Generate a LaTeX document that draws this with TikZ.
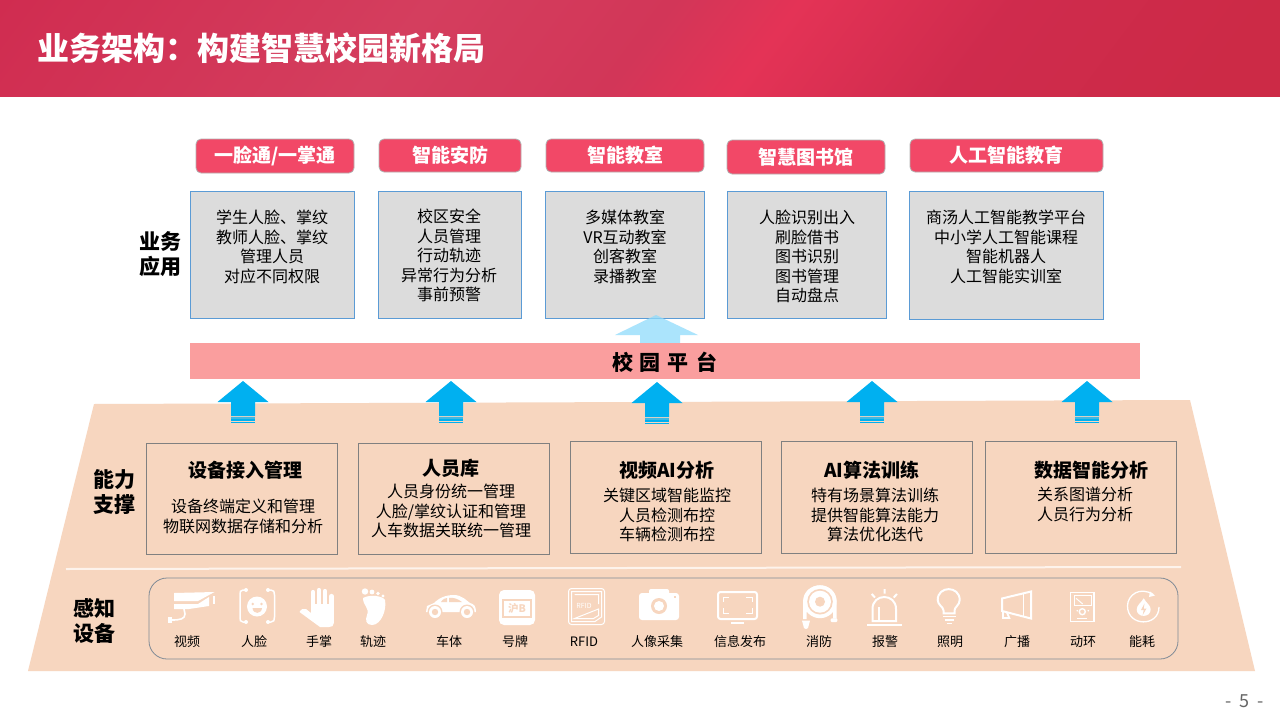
\documentclass[tikz,border=0pt]{standalone}
\usepackage{fontspec}
\setmainfont{Noto Sans CJK SC}
\usetikzlibrary{calc}
\definecolor{peach}{HTML}{F7D6BF}
\definecolor{pill}{HTML}{F24867}
\definecolor{graybox}{HTML}{DCDCDC}
\definecolor{bluestroke}{HTML}{5B9BD5}
\definecolor{barcol}{HTML}{FA9E9E}
\definecolor{arrowblue}{HTML}{00B0F0}
\definecolor{lightarrow}{HTML}{8FDBFB}
\definecolor{framecol}{HTML}{7F8A96}
\definecolor{hA}{HTML}{D02C50}
\definecolor{hB}{HTML}{D43E5E}
\definecolor{hC}{HTML}{D23658}
\definecolor{hD}{HTML}{E43356}
\definecolor{hE}{HTML}{CF2B4D}
\definecolor{hF}{HTML}{CC2A46}
\pgfdeclarehorizontalshading{hdrshade}{100bp}{color(0bp)=(hA); color(32bp)=(hA); color(43.5bp)=(hB); color(50bp)=(hC); color(53.3bp)=(hD); color(59.1bp)=(hE); color(66bp)=(hF); color(100bp)=(hF)}
\newcommand{\lowtxt}[1]{\raisebox{-1pt}{#1}}
\tikzset{
 pillbox/.style={draw=black!30,line width=.8pt,fill=pill,rounded corners=5pt,text=white,font=\bfseries\fontsize{19}{21}\selectfont,inner sep=0pt},
 grayrect/.style={draw=bluestroke,line width=1pt,fill=graybox,inner sep=0pt},
 capbox/.style={draw=black!50,line width=1pt,fill=none,inner sep=0pt},
 body/.style={text=black,font=\fontsize{16}{19.5}\selectfont,align=center,inner sep=0pt,anchor=north},
 captitle/.style={text=black,font=\bfseries\fontsize{19}{21}\selectfont,inner sep=0pt},
 sidelabel/.style={text=black,font=\bfseries\fontsize{21}{25}\selectfont,align=center,inner sep=0pt},
 iconlabel/.style={text=black,font=\fontsize{13}{15}\selectfont,inner sep=0pt}
}
\newcommand{\upblock}[2]{% x of centre, y of tip
 \fill[arrowblue] (#1,#2) -- ++(25.5,21) -- ++(-13.5,0) -- ++(0,14) -- ++(-24,0) -- ++(0,-14) -- ++(-13.5,0) -- cycle;
 \fill[arrowblue!75!peach] ($(#1,#2)+(-12,36)$) rectangle ++(24,2);
 \fill[arrowblue] ($(#1,#2)+(-12,38)$) rectangle ++(24,2);
 \fill[arrowblue] ($(#1,#2)+(-12,41)$) rectangle ++(24,1);
}
\begin{document}
\begin{tikzpicture}[x=1pt,y=-1pt]
\useasboundingbox (0,0) rectangle (1280,720);
\fill[white] (0,0) rectangle (1280,720);
% header
\begin{scope}
\clip (0,0) rectangle (1280,96.6);
\shade[shading=hdrshade,shading angle=-37] (-110,-701.5) rectangle (1390,798.5);
\end{scope}
\node[text=white,font=\bfseries\fontsize{32}{36}\selectfont,anchor=west,inner sep=0pt] (title) at (37,48) {业务架构：构建智慧校园新格局};
% pills
\node[pillbox,minimum width=158pt,minimum height=34pt] (p1) at (275,156) {\lowtxt{一脸通/一掌通}};
\node[pillbox,minimum width=142pt,minimum height=33pt] (p2) at (450,155.5) {\lowtxt{智能安防}};
\node[pillbox,minimum width=158pt,minimum height=33pt] (p3) at (625,155.5) {\lowtxt{智能教室}};
\node[pillbox,minimum width=158pt,minimum height=34pt] (p4) at (806,157) {\lowtxt{智慧图书馆}};
\node[pillbox,minimum width=193pt,minimum height=33pt] (p5) at (1006.5,155.5) {\lowtxt{人工智能教育}};
% gray boxes
\node[grayrect,minimum width=164pt,minimum height=127pt] (g1) at (272.5,254.5) {};
\node[grayrect,minimum width=143pt,minimum height=127pt] (g2) at (450,254.5) {};
\node[grayrect,minimum width=159pt,minimum height=127pt] (g3) at (625,254.5) {};
\node[grayrect,minimum width=159pt,minimum height=127pt] (g4) at (807,254.5) {};
\node[grayrect,minimum width=194pt,minimum height=128pt] (g5) at (1006.5,255) {};
\node[body] (t1) at (272,210) {学生人脸、掌纹\\教师人脸、掌纹\\管理人员\\对应不同权限};
\node[body] (t2) at (449,209) {校区安全\\人员管理\\行动轨迹\\异常行为分析\\事前预警};
\node[body] (t3) at (625,210) {多媒体教室\\VR互动教室\\创客教室\\录播教室};
\node[body] (t4) at (807,210) {人脸识别出入\\刷脸借书\\图书识别\\图书管理\\自动盘点};
\node[body] (t5) at (1006,210) {商汤人工智能教学平台\\中小学人工智能课程\\智能机器人\\人工智能实训室};
\node[sidelabel] (l1) at (160,254) {业务\\应用};
% light arrow
\fill[lightarrow,opacity=.75] (656,315) -- (698,335) -- (680,335) -- (680,343) -- (640,343) -- (640,335) -- (615,335) -- cycle;
% bar
\node[fill=barcol,minimum width=950pt,minimum height=36pt,inner sep=0pt] (bar) at (665,361) {};
\node[text=black,font=\bfseries\fontsize{21}{23}\selectfont,inner sep=0pt] (bart) at (664.5,362) {校\hspace{7pt}园\hspace{7pt}平\hspace{7pt}台};
% base
\fill[peach] (94,404) -- (1190,400) -- (1255,671) -- (28,671) -- cycle;
\upblock{243}{381}
\upblock{451}{381}
\upblock{657}{382}
\upblock{872}{381}
\upblock{1087}{381}
% capability
\node[capbox,minimum width=191pt,minimum height=111pt] (c1) at (241.5,498.5) {};
\node[capbox,minimum width=191pt,minimum height=111pt] (c2) at (454,498.5) {};
\node[capbox,minimum width=191pt,minimum height=112pt] (c3) at (665.5,497) {};
\node[capbox,minimum width=191pt,minimum height=112pt] (c4) at (877,497) {};
\node[capbox,minimum width=191pt,minimum height=112pt] (c5) at (1080.5,497) {};
\node[captitle] (ct1) at (245,470) {设备接入管理};
\node[captitle] (ct2) at (451,468) {人员库};
\node[captitle] (ct3) at (667,470) {视频AI分析};
\node[captitle] (ct4) at (872,470) {AI算法训练};
\node[captitle] (ct5) at (1091,470) {数据智能分析};
\node[body] (cb1) at (243,499) {设备终端定义和管理\\物联网数据存储和分析};
\node[body] (cb2) at (451,484) {人员身份统一管理\\人脸/掌纹认证和管理\\人车数据关联统一管理};
\node[body] (cb3) at (667,488) {关键区域智能监控\\人员检测布控\\车辆检测布控};
\node[body] (cb4) at (875,488) {特有场景算法训练\\提供智能算法能力\\算法优化迭代};
\node[body] (cb5) at (1085,487) {关系图谱分析\\人员行为分析};
\node[sidelabel] (l2) at (114,492) {能力\\支撑};
\node[sidelabel] (l3) at (94,621) {感知\\设备};
% separator
\draw[color=white!70!peach,line width=2pt] (66,569) -- (1181,567);
% frame
\draw[framecol,line width=.8pt,rounded corners=18pt] (149,578) rectangle (1178,659);
% labels
\foreach \nm/\x/\t in {a/187/视频,b/254/人脸,c/319/手掌,d/373/轨迹,e/449/车体,f/515/号牌,g/584/RFID,h/657/人像采集,i/740/信息发布,j/819/消防,k/885/报警,l/950/照明,m/1017/广播,n/1083/动环,o/1142/能耗}
  \node[iconlabel] (il\nm) at (\x,641.5) {\t};
% ---- icons ----
% video
\fill[white] (174,593) -- (214.5,592) -- (198,601) -- (174,601) -- cycle;
\fill[white] (174,604) -- (198,604) -- (209,597) -- (209,606) -- (189,609) -- (174,609) -- cycle;
\fill[white] (213,596) rectangle (215,604);
\draw[white,line width=1.6pt] (184,609) -- (185,614) .. controls (185,619) and (180,620) .. (172,620);
\fill[white] (168,617) rectangle (172,623);
% face
\fill[white] (257,606.5) circle[radius=10pt];
\fill[peach] (252.7,604) circle[radius=1.4pt] (261.5,604) circle[radius=1.4pt];
\fill[peach] (252.5,608) .. controls (253,614.5) and (261.5,614.5) .. (262,608) -- cycle;
\draw[white,line width=1.5pt,line cap=round] (246,590) -- (243,590) .. controls (240,590) and (240,592) .. (240,595) -- (240,617) .. controls (240,620) and (240,622) .. (243,622) -- (246,622);
\draw[white,line width=1.5pt,line cap=round] (268,590) -- (271,590) .. controls (274,590) and (274.5,592) .. (274.5,595) -- (274.5,617) .. controls (274.5,620) and (274,622) .. (271,622) -- (268,622);
\fill[white] (246,590) circle[radius=2pt] (246,622) circle[radius=2pt] (268,590) circle[radius=2pt] (268,622) circle[radius=2pt];
% hand
\draw[white,line width=4.2pt,line cap=round] (313,608) -- (313,592) (319,608) -- (319,590) (325,608) -- (325,591) (331.5,610) -- (331.5,596);
\fill[white] (311,604) -- (333.8,604) -- (333.8,623) .. controls (333.8,626) and (332,627) .. (329,627) -- (320,627) -- (299.5,612) .. controls (301,609) and (304,608) .. (306,609) -- (311,613) -- cycle;
% foot
\fill[white] (365,591.5) circle[radius=3.2pt] (372,592) circle[radius=2.4pt] (378,593.5) circle[radius=1.9pt] (383,596) circle[radius=1.6pt];
\fill[white] (363,598) .. controls (370,594) and (383,596) .. (385,600) .. controls (387,610) and (381,625) .. (372,625) .. controls (366,625) and (365,620) .. (367,615) .. controls (370,608) and (363,606) .. (363,598) -- cycle;
% car
\fill[white] (426,612) -- (427,606) -- (434,603) .. controls (441,596) and (449,595) .. (454,595) .. controls (462,595) and (467,601) .. (470,603) .. controls (474,604) and (476,606) .. (476,612) -- (426,612) -- cycle;
\fill[peach] (441,602) .. controls (443,599) and (445,598) .. (447,598) -- (447,602) -- cycle;
\fill[peach] (449,598) .. controls (453,597) and (458,599) .. (462,602) -- (449,602) -- cycle;
\foreach \cx in {435,467} {\fill[peach] (\cx,612) circle[radius=7.5pt]; \fill[white] (\cx,612) circle[radius=6pt]; \fill[peach] (\cx,612) circle[radius=3.2pt];}
% plate
\fill[white,rounded corners=5pt] (499,590) rectangle (535,625);
\draw[peach,line width=1.2pt] (503,600) rectangle (531,617);
\node[text=peach,font=\bfseries\fontsize{10.5}{12}\selectfont,inner sep=0pt] (pltxt) at (517,608.5) {沪B};
% rfid
\draw[white,line width=1pt,rounded corners=3pt] (568.5,588.5) rectangle (604.5,624.5);
\draw[white,line width=1pt] (571.5,591.5) -- (601.5,591.5) -- (601.5,617) -- (595,621.5) -- (571.5,621.5) -- cycle;
\draw[white,line width=1pt] (574.5,594.5) -- (598.5,594.5) -- (598.5,604) (598.5,609) -- (598.5,615.5) -- (593.5,618.5) -- (574.5,618.5) -- cycle;
\node[text=white,font=\fontsize{7}{8}\selectfont,inner sep=0pt] (rftxt) at (584,606) {RFID};
% camera
\fill[white,rounded corners=3pt] (639,593) rectangle (679,620);
\fill[white,rounded corners=2pt] (649,589) rectangle (669,597);
\fill[peach] (659,606) circle[radius=8pt];
\fill[white] (659,606) circle[radius=5pt];
\fill[peach] (674,596) rectangle (676,598);
% monitor
\draw[white,line width=2pt,rounded corners=2.5pt] (718,592) rectangle (757,619);
\draw[white,line width=2pt] (731,623) -- (744,623);
\draw[white,line width=1pt] (729,597) -- (723,597) -- (723,602) (746,597) -- (752,597) -- (752,602) (723,608) -- (723,613) -- (729,613) (752,608) -- (752,613) -- (746,613);
% hose
\fill[white] (803,619) -- (803,602) .. controls (803,580) and (836.7,580) .. (836.7,602) -- (836.7,618.5) -- (833,618.5) -- (833,612) -- (806.7,612) -- (806.7,619) -- cycle;
\fill[white] (820,601.7) circle[radius=16.5pt];
\fill[peach] (820,601.7) circle[radius=12.8pt];
\fill[white] (820,601.7) circle[radius=11pt];
\fill[peach] (820,601.7) circle[radius=5pt];
\fill[white] (802,620.7) -- (810,620.7) -- (808,628) -- (806,629) -- (804,628) -- cycle;
\fill[white,rounded corners=1pt] (830.7,618.3) rectangle (837.3,622);
% alarm
\draw[white,line width=2pt] (872.5,621) -- (872.5,609) .. controls (872.5,593) and (896,593) .. (896,609) -- (896,621) -- cycle;
\draw[white,line width=2pt] (867,624.5) -- (901.5,624.5);
\draw[white,line width=1.5pt] (879,621) -- (879,607);
\draw[white,line width=2pt] (884.7,589) -- (884.7,593.5) (871.7,594) -- (875,597.5) (897,594) -- (893.7,597.5);
% bulb
\draw[white,line width=2pt] (943.5,613.3) -- (943.5,610.5) .. controls (943.5,607) and (937.7,605) .. (937.7,600) .. controls (937.7,585.5) and (959.7,585.5) .. (959.7,600) .. controls (959.7,605) and (954.5,607) .. (954.5,610.5) -- (954.5,613.3) -- cycle;
\draw[white,line width=1.4pt] (943,616.5) -- (955.5,616.5) (944.7,620) -- (954,620) (946.7,623.5) -- (951.7,623.5);
% horn
\draw[white,line width=2pt] (1002,598.5) -- (1031,591.5) -- (1031,618.5) -- (1002,611) -- cycle;
\draw[white,line width=1.6pt] (1023.3,593.5) -- (1023.3,616.5);
\draw[white,line width=1.8pt] (1003,611) -- (1003,618) -- (1009.3,618) -- (1006.7,612);
% gauge
\draw[white,line width=1.6pt] (1070.5,592.5) rectangle (1094,621.5);
\draw[white,line width=1pt] (1074,595.5) rectangle (1091,605);
\draw[white,line width=1pt] (1076,598.3) -- (1082.7,604);
\draw[white,line width=1.4pt] (1082.3,611.7) circle[radius=3pt];
\fill[white] (1077.3,610.7) circle[radius=.9pt] (1088.3,610.7) circle[radius=.9pt];
\draw[white,line width=.9pt] (1077,618.3) -- (1087,618.3);
% energy
\draw[white,line width=1.3pt] (1153,594.5) .. controls (1140,586) and (1127.5,595) .. (1127.5,606) .. controls (1127.5,627) and (1159,627) .. (1159,607);
\fill[white] (1150,591.5) -- (1155,595.5) -- (1149,597) -- cycle;
\fill[white] (1143.7,598.3) .. controls (1146,603) and (1150.7,605) .. (1150.7,609.5) .. controls (1150.7,618) and (1136.7,618) .. (1136.7,609.5) .. controls (1136.7,605) and (1141,603) .. (1143.7,598.3) -- cycle;
\fill[peach] (1144.5,603.5) -- (1141,610) -- (1143.7,610) -- (1142.7,615) -- (1146.5,608.5) -- (1143.7,608.5) -- cycle;
% page
\node[text=black!60,font=\fontsize{18}{20}\selectfont,inner sep=0pt] (pg) at (1244.5,701.5) {-\hspace{7pt}5\hspace{8pt}-};
\end{tikzpicture}
\end{document}
